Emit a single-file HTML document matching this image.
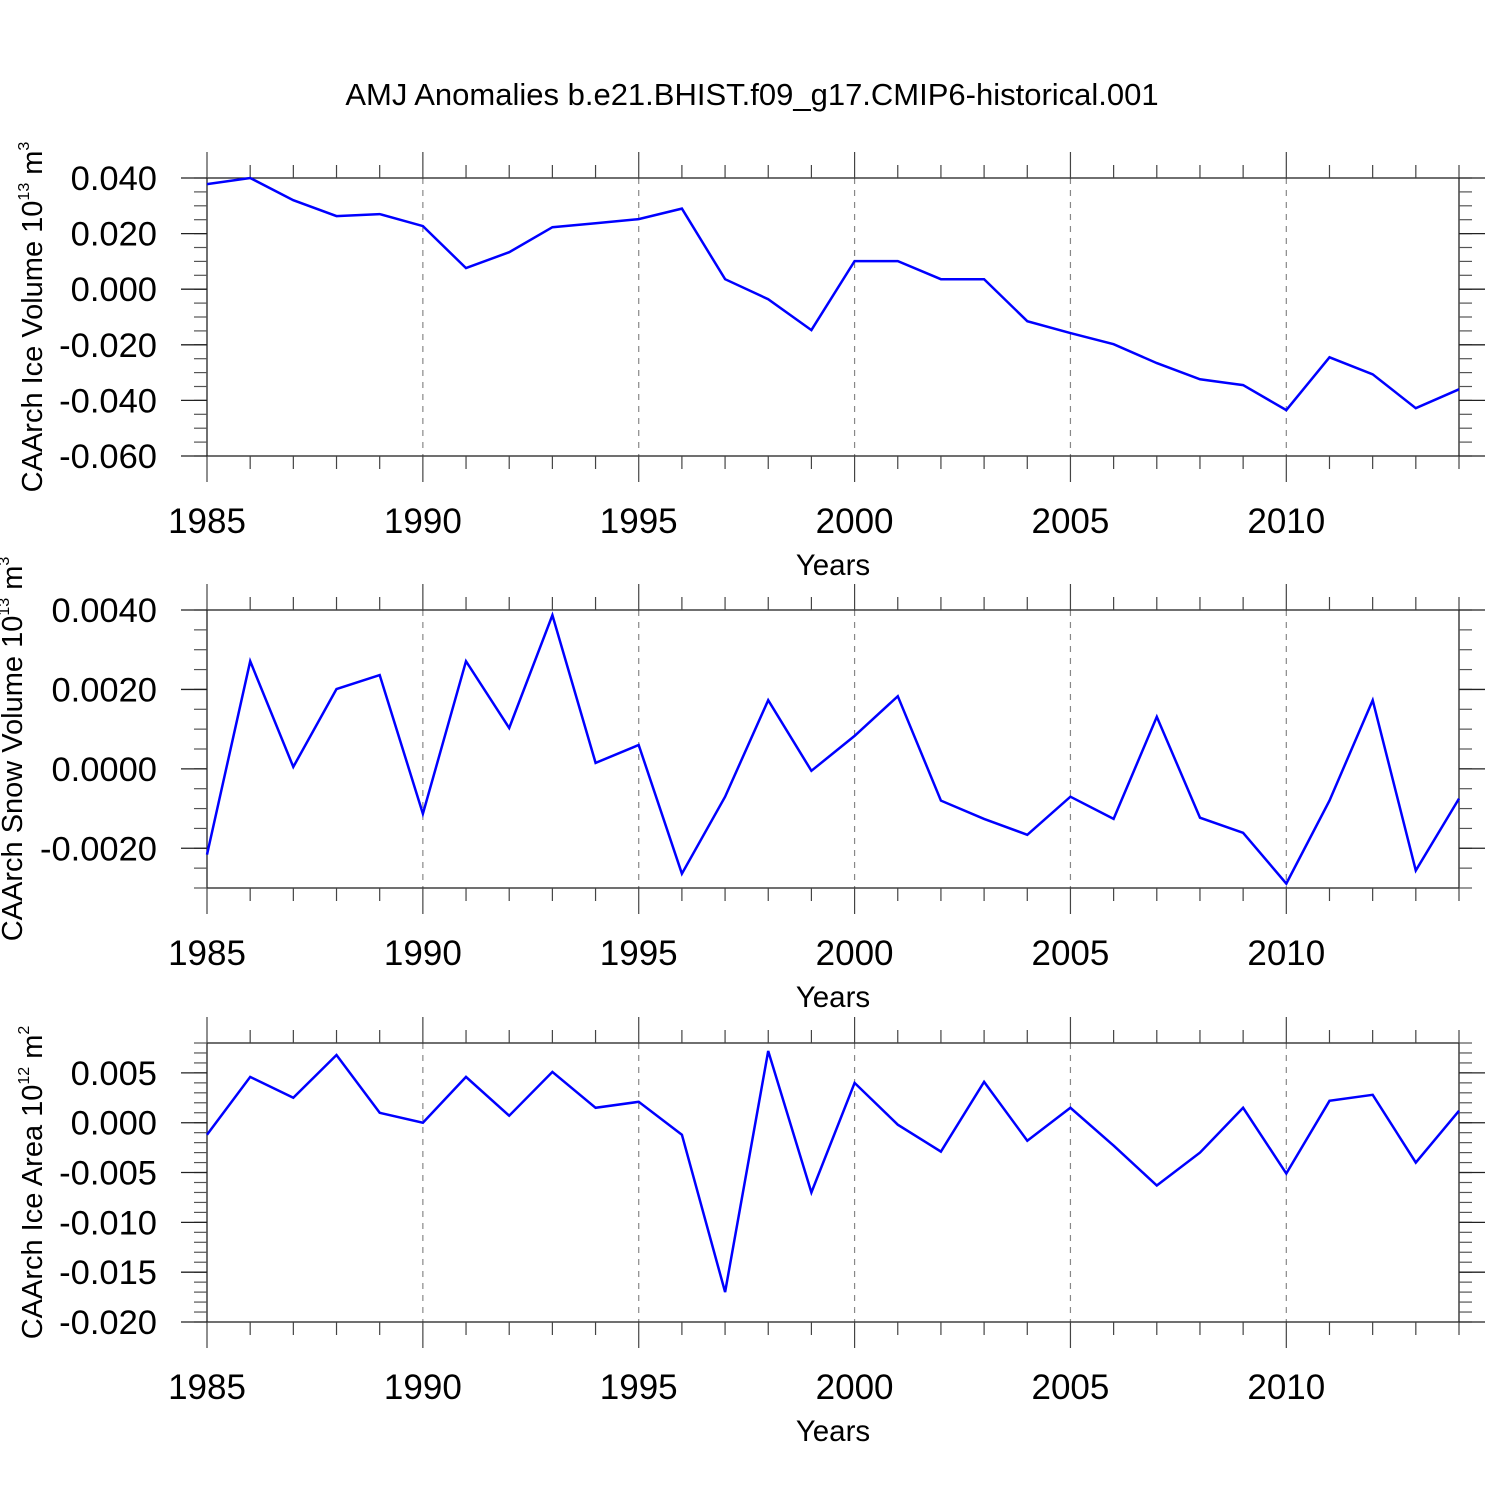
<!DOCTYPE html>
<html><head><meta charset="utf-8"><style>
html,body{margin:0;padding:0;background:#fff}
svg{display:block;font-family:"Liberation Sans",Arial,sans-serif}
</style></head><body>
<svg id="chart" width="1500" height="1500" viewBox="0 0 1500 1500" xmlns="http://www.w3.org/2000/svg">
<text x="752" y="105" font-size="31" text-anchor="middle">AMJ Anomalies b.e21.BHIST.f09_g17.CMIP6-historical.001</text>
</svg>
<script>
const years = [1985,1986,1987,1988,1989,1990,1991,1992,1993,1994,1995,1996,1997,1998,1999,2000,2001,2002,2003,2004,2005,2006,2007,2008,2009,2010,2011,2012,2013,2014];
const iceVolume = [0.0378,0.040,0.032,0.0263,0.027,0.0227,0.0076,0.0133,0.0223,0.0237,0.0252,0.029,0.0036,-0.0036,-0.0147,0.0101,0.0101,0.0036,0.0036,-0.0115,-0.0158,-0.0198,-0.0266,-0.0324,-0.0345,-0.0435,-0.0245,-0.0306,-0.0428,-0.036];
const snowVolume = [-0.00216,0.00271,0.00005,0.00201,0.00236,-0.00113,0.00271,0.00103,0.00387,0.00015,0.0006,-0.00264,-0.0007,0.00173,-0.00005,0.00083,0.00183,-0.0008,-0.00126,-0.00166,-0.0007,-0.00126,0.00131,-0.00123,-0.00161,-0.00289,-0.0008,0.00173,-0.00256,-0.00075];
const iceArea = [-0.0012,0.0046,0.0025,0.0068,0.001,0,0.0046,0.0007,0.0051,0.0015,0.0021,-0.0012,-0.017,0.0072,-0.007,0.004,-0.0002,-0.0029,0.0041,-0.0018,0.0015,-0.0023,-0.0063,-0.003,0.0015,-0.0051,0.0022,0.0028,-0.004,0.0012];
const xTickLabels = ["1985","1990","1995","2000","2005","2010"];
const iceVolTicks = ["0.040","0.020","0.000","-0.020","-0.040","-0.060"];
const snowTicks = ["0.0040","0.0020","0.0000","-0.0020"];
const areaTicks = ["0.005","0.000","-0.005","-0.010","-0.015","-0.020"];

const svg = document.getElementById('chart');
const NS = "http://www.w3.org/2000/svg";
const X0=207, X1=1459;
function xs(yr){return X0+(yr-1985)*(X1-X0)/29;}
function mk(tag,attrs,parent){const e=document.createElementNS(NS,tag);for(const k in attrs)e.setAttribute(k,attrs[k]);(parent||svg).appendChild(e);return e;}

const panels = [
 {name:'ice-volume',top:178,bot:456,ymin:-0.060,ymax:0.040,minor:0.005,ticks:iceVolTicks,data:iceVolume,title:'CAArch Ice Volume 10',sup:'13',unit:' m',usup:'3',tx:42},
 {name:'snow-volume',top:610,bot:888,ymin:-0.003,ymax:0.004,minor:0.0005,ticks:snowTicks,data:snowVolume,title:'CAArch Snow Volume 10',sup:'13',unit:' m',usup:'3',tx:22},
 {name:'ice-area',top:1043,bot:1322,ymin:-0.020,ymax:0.008,minor:0.001,ticks:areaTicks,data:iceArea,title:'CAArch Ice Area 10',sup:'12',unit:' m',usup:'2',tx:42}
];

panels.forEach(p=>{
 const g=mk('g',{});
 
 
 const ys=v=>p.bot-(v-p.ymin)*(p.bot-p.top)/(p.ymax-p.ymin);
 xTickLabels.forEach(t=>{const yr=+t;if(yr===1985)return;
  const l=mk('line',{x1:xs(yr),x2:xs(yr),y1:p.top,y2:p.bot,stroke:'#888','stroke-width':1.2,'stroke-dasharray':'6,6'},g);
  
  
 });
 const fr=mk('rect',{x:X0,y:p.top,width:X1-X0,height:p.bot-p.top,fill:'none',stroke:'#222','stroke-width':1.3},g);
 
 
 years.forEach(yr=>{const major=(yr%5===0);const len=major?26:13;const x=xs(yr);
  mk('line',{x1:x,x2:x,y1:p.top-len,y2:p.top,stroke:'#444','stroke-width':1.2},g);
  mk('line',{x1:x,x2:x,y1:p.bot,y2:p.bot+len,stroke:'#444','stroke-width':1.2},g);
 });
 const n=Math.round((p.ymax-p.ymin)/p.minor);
 for(let i=0;i<=n;i++){const v=p.ymin+i*p.minor;const y=ys(v);
  mk('line',{x1:X0-13,x2:X0,y1:y,y2:y,stroke:'#555','stroke-width':1.2},g);
  mk('line',{x1:X1,x2:X1+13,y1:y,y2:y,stroke:'#555','stroke-width':1.2},g);
 }
 p.ticks.forEach(t=>{const y=ys(parseFloat(t));
  mk('line',{x1:X0-26,x2:X0,y1:y,y2:y,stroke:'#222','stroke-width':1.3},g);
  mk('line',{x1:X1,x2:X1+26,y1:y,y2:y,stroke:'#222','stroke-width':1.3},g);
  const tx=mk('text',{x:157,y:y+12,'font-size':34.5,'text-anchor':'end'},g);
  tx.textContent=t;
  
  
 });
 xTickLabels.forEach(t=>{const tx=mk('text',{x:xs(+t),y:p.bot+77,'font-size':35,'text-anchor':'middle'},g);
  tx.textContent=t;
  
  
 });
 const xt=mk('text',{x:833,y:p.bot+119,'font-size':29.5,'text-anchor':'middle'},g);
 xt.textContent='Years';
 
 
 const cy=(p.top+p.bot)/2;
 const yt=mk('text',{x:0,y:0,'font-size':29,'text-anchor':'middle',transform:`translate(${p.tx},${cy}) rotate(-90)`},g);
 
 
 yt.appendChild(document.createTextNode(p.title));
 const s1=mk('tspan',{'font-size':16,dy:-13},yt);s1.textContent=p.sup;
 const s2=mk('tspan',{dy:13},yt);s2.textContent=p.unit;
 const s3=mk('tspan',{'font-size':16,dy:-13},yt);s3.textContent=p.usup;
 const pts=p.data.map((v,i)=>xs(years[i]).toFixed(1)+','+ys(v).toFixed(1)).join(' ');
 const pl=mk('polyline',{points:pts,fill:'none',stroke:'#0000ff','stroke-width':2.5,'stroke-linejoin':'miter'},g);
 
 
});
</script>
</body></html>
